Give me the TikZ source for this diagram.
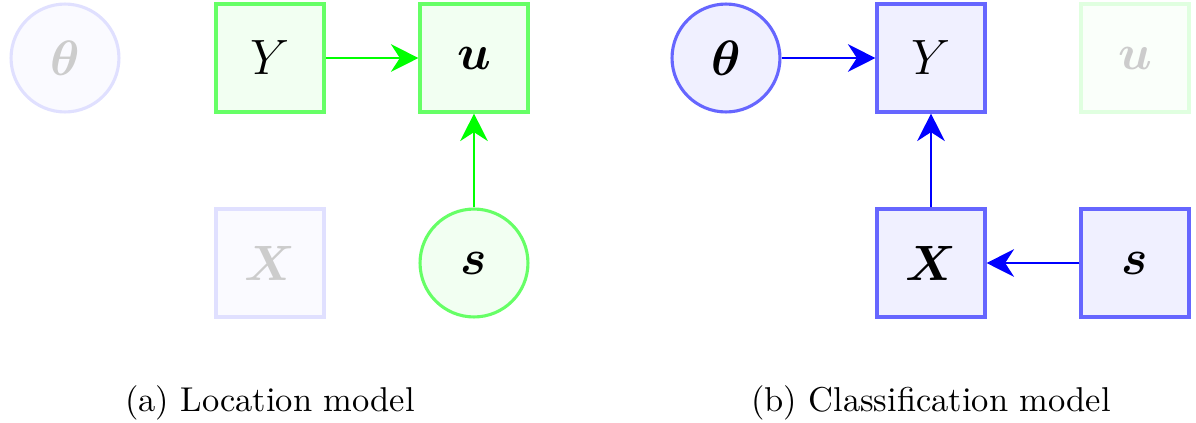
\documentclass[tikz,border=0pt]{standalone}
\usepackage{amsmath,bm}
\usetikzlibrary{arrows.meta}
\begin{document}
\begin{tikzpicture}[x=0.29pt,y=-0.29pt,
  base/.style={line width=0.9pt,inner sep=0pt,font=\fontsize{14}{16}\selectfont},
  gbox/.style={base,rectangle,minimum size=31.3pt,draw=green!60,fill=green!5},
  gcirc/.style={base,circle,minimum size=31.3pt,draw=green!60,fill=green!5},
  bbox/.style={base,rectangle,minimum size=31.3pt,draw=blue!60,fill=blue!6},
  bcirc/.style={base,circle,minimum size=31.3pt,draw=blue!60,fill=blue!6},
  fbbox/.style={base,rectangle,minimum size=31.3pt,draw=blue!12,fill=blue!2,text=black!20},
  fbcirc/.style={base,circle,minimum size=31.3pt,draw=blue!12,fill=blue!2,text=black!20},
  fgbox/.style={base,rectangle,minimum size=31.3pt,draw=green!12,fill=green!2,text=black!20},
  garr/.style={draw=green,fill=green,line width=0.45pt,-{Stealth[length=8pt,width=8pt,inset=2.6pt]}},
  barr/.style={draw=blue,fill=blue,line width=0.45pt,-{Stealth[length=8pt,width=8pt,inset=2.6pt]}},
  captext/.style={font=\normalsize,inner sep=0pt,anchor=base}
]
\useasboundingbox (0,0) rectangle (1196,423);
% (a) Location model
\node[fbcirc] (ta) at (65,58) {$\boldsymbol{\theta}$};
\node[gbox] (ya) at (270,58) {$Y$};
\node[gbox] (ua) at (474,58) {$\boldsymbol{u}$};
\node[fbbox] (xa) at (270,263) {$\boldsymbol{X}$};
\node[gcirc] (sa) at (474,263) {$\boldsymbol{s}$};
\draw[garr] (ya) -- (ua);
\draw[garr] (sa) -- (ua);
\node[captext] (capa) at (270,411) {(a) Location model};
% (b) Classification model
\node[bcirc] (tb) at (726,58) {$\boldsymbol{\theta}$};
\node[bbox] (yb) at (931,58) {$Y$};
\node[fgbox] (ub) at (1135,58) {$\boldsymbol{u}$};
\node[bbox] (xb) at (931,263) {$\boldsymbol{X}$};
\node[bbox] (sb) at (1135,263) {$\boldsymbol{s}$};
\draw[barr] (tb) -- (yb);
\draw[barr] (xb) -- (yb);
\draw[barr] (sb) -- (xb);
\node[captext] (capb) at (931,411) {(b) Classification model};
\end{tikzpicture}
\end{document}
